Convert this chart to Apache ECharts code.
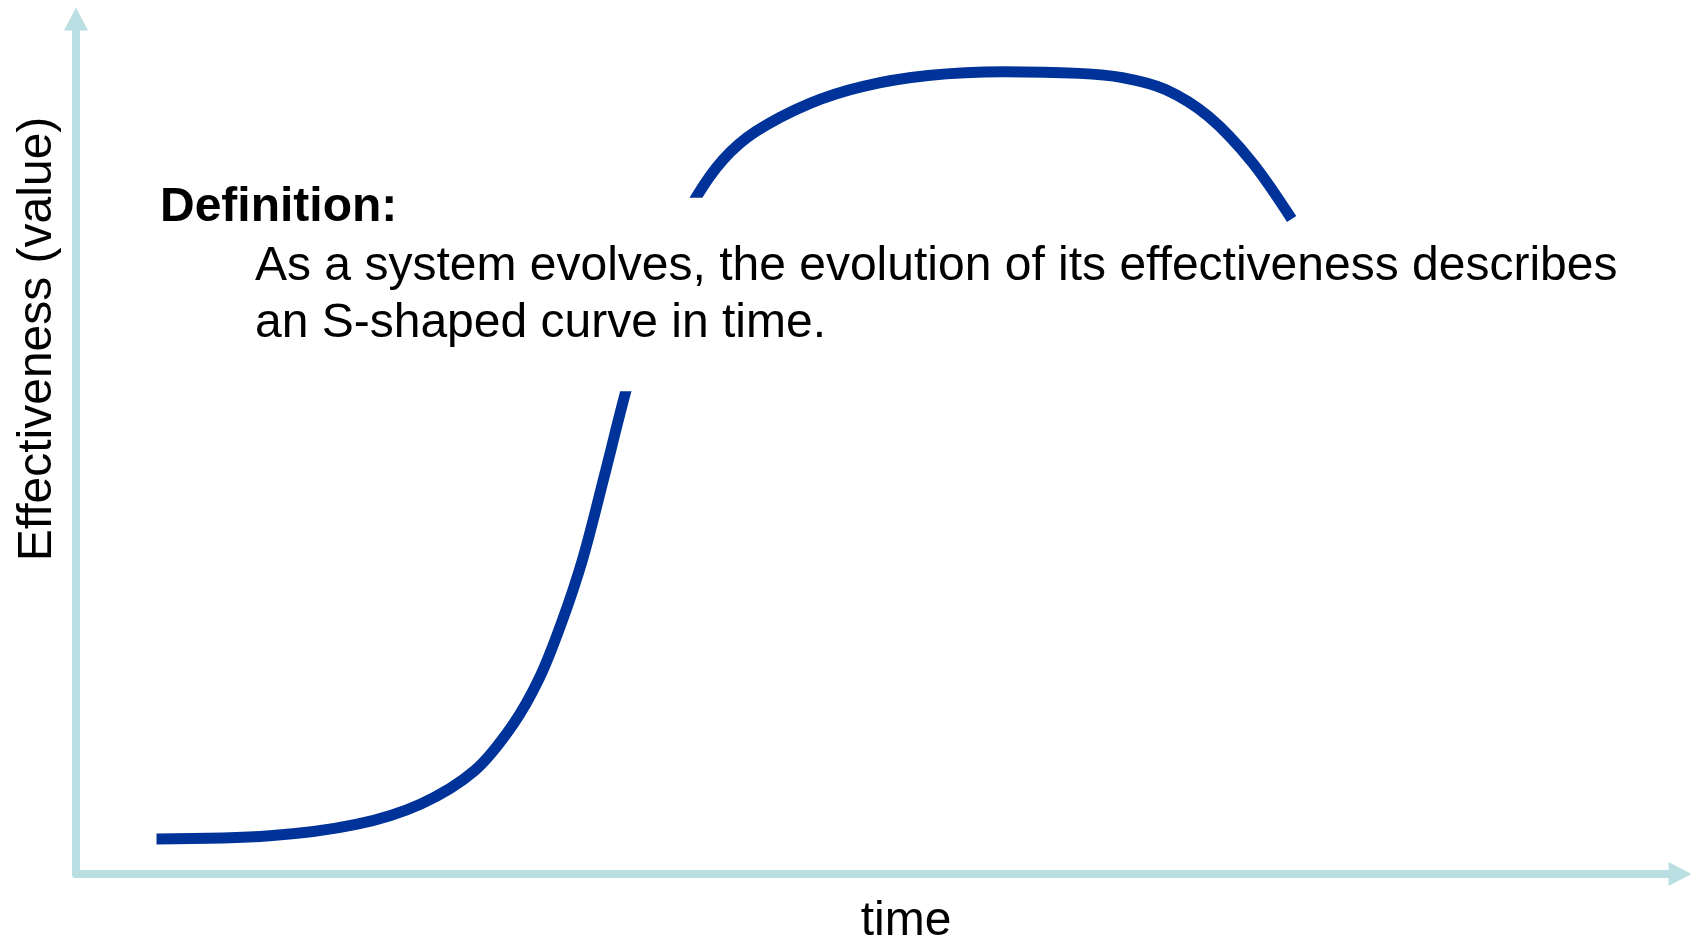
<!DOCTYPE html>
<html>
<head>
<meta charset="utf-8">
<title>S-curve</title>
<script src="https://cdn.jsdelivr.net/npm/echarts@6/dist/echarts.min.js"></script>
<style>
  html, body { margin: 0; padding: 0; background: #fff; }
  #main { width: 1692px; height: 939px; }
</style>
</head>
<body>
<div id="main"></div>
<script>
// 曲线上的点（时间 / 有效性）
const timeValues = [5.02, 12.08, 17.46, 21.50, 24.86, 27.22, 28.90, 30.25, 31.59, 32.94, 34.28,
  35.63, 37.11,
  38.66, 40.34, 42.36, 45.72, 49.08, 53.12, 57.83, 62.54, 65.23, 67.92, 70.61, 73.30, 75.79]
const effectValues = [4.09, 4.47, 5.80, 8.20, 12.11, 17.41, 22.96, 29.27, 36.85, 46.56, 56.47,
  65.24, 73.45,
  79.13, 83.54, 86.82, 90.11, 92.13, 93.39, 93.83, 93.64, 93.14, 91.75, 88.59, 83.29, 76.60]

// 文字框挡住曲线的那一段（白色遮挡）[x0, y0, x1, y1]
const maskBox = [30, 56.45, 45, 79.1]

const axisColor = '#badfe3'
const lineColor = '#003399'
const font = '"Liberation Sans", Arial, sans-serif'

const dom = document.querySelector('#main')
const myChart = echarts.init(dom)

const option = {
  animation: false,
  grid: {
    left: 76,
    right: 12,
    top: 19,
    bottom: 65
  },
  xAxis: {
    type: 'value',
    min: 0,
    max: 100,
    axisLine: {
      show: true,
      onZero: false,
      symbol: ['none', 'triangle'],
      symbolSize: [24, 23],
      lineStyle: { color: axisColor, width: 8 }
    },
    axisTick: { show: false },
    axisLabel: { show: false },
    splitLine: { show: false }
  },
  yAxis: {
    type: 'value',
    min: 0,
    max: 100,
    axisLine: {
      show: true,
      onZero: false,
      symbol: ['none', 'triangle'],
      symbolSize: [24, 23],
      lineStyle: { color: axisColor, width: 8 }
    },
    axisTick: { show: false },
    axisLabel: { show: false },
    splitLine: { show: false }
  },
  series: [
    {
      type: 'line',
      data: timeValues.map((t, i) => [t, effectValues[i]]),
      smooth: 0.33,
      showSymbol: false,
      silent: true,
      z: 2,
      lineStyle: {
        color: lineColor,
        width: 11,
        cap: 'butt'
      }
    },
    {
      // 白色遮挡
      type: 'custom',
      z: 5,
      silent: true,
      encode: { x: [0, 2], y: [1, 3] },
      data: [maskBox],
      renderItem: function (params, api) {
        const p0 = api.coord([api.value(0), api.value(1)])
        const p1 = api.coord([api.value(2), api.value(3)])
        return {
          type: 'rect',
          shape: {
            x: p0[0],
            y: p1[1],
            width: p1[0] - p0[0],
            height: p0[1] - p1[1]
          },
          style: { fill: '#fff' }
        }
      }
    }
  ],
  graphic: [
    {
      type: 'text',
      x: 38,
      y: 339,
      rotation: Math.PI / 2,
      z: 100,
      style: {
        text: 'Effectiveness (value)',
        font: '48px ' + font,
        fill: '#000',
        align: 'center',
        verticalAlign: 'middle'
      }
    },
    {
      type: 'text',
      x: 906,
      y: 922,
      z: 100,
      style: {
        text: 'time',
        font: '48px ' + font,
        fill: '#000',
        align: 'center',
        verticalAlign: 'middle'
      }
    },
    {
      type: 'text',
      x: 160,
      y: 208,
      z: 100,
      style: {
        text: 'Definition:',
        font: 'bold 48px ' + font,
        fill: '#000',
        align: 'left',
        verticalAlign: 'middle'
      }
    },
    {
      type: 'text',
      x: 255,
      y: 238.5,
      z: 100,
      style: {
        text: 'As a system evolves, the evolution of its effectiveness describes\nan S-shaped curve in time.',
        font: '48px ' + font,
        lineHeight: 57,
        fill: '#000',
        align: 'left',
        verticalAlign: 'top'
      }
    }
  ]
}

myChart.setOption(option)
</script>
</body>
</html>
